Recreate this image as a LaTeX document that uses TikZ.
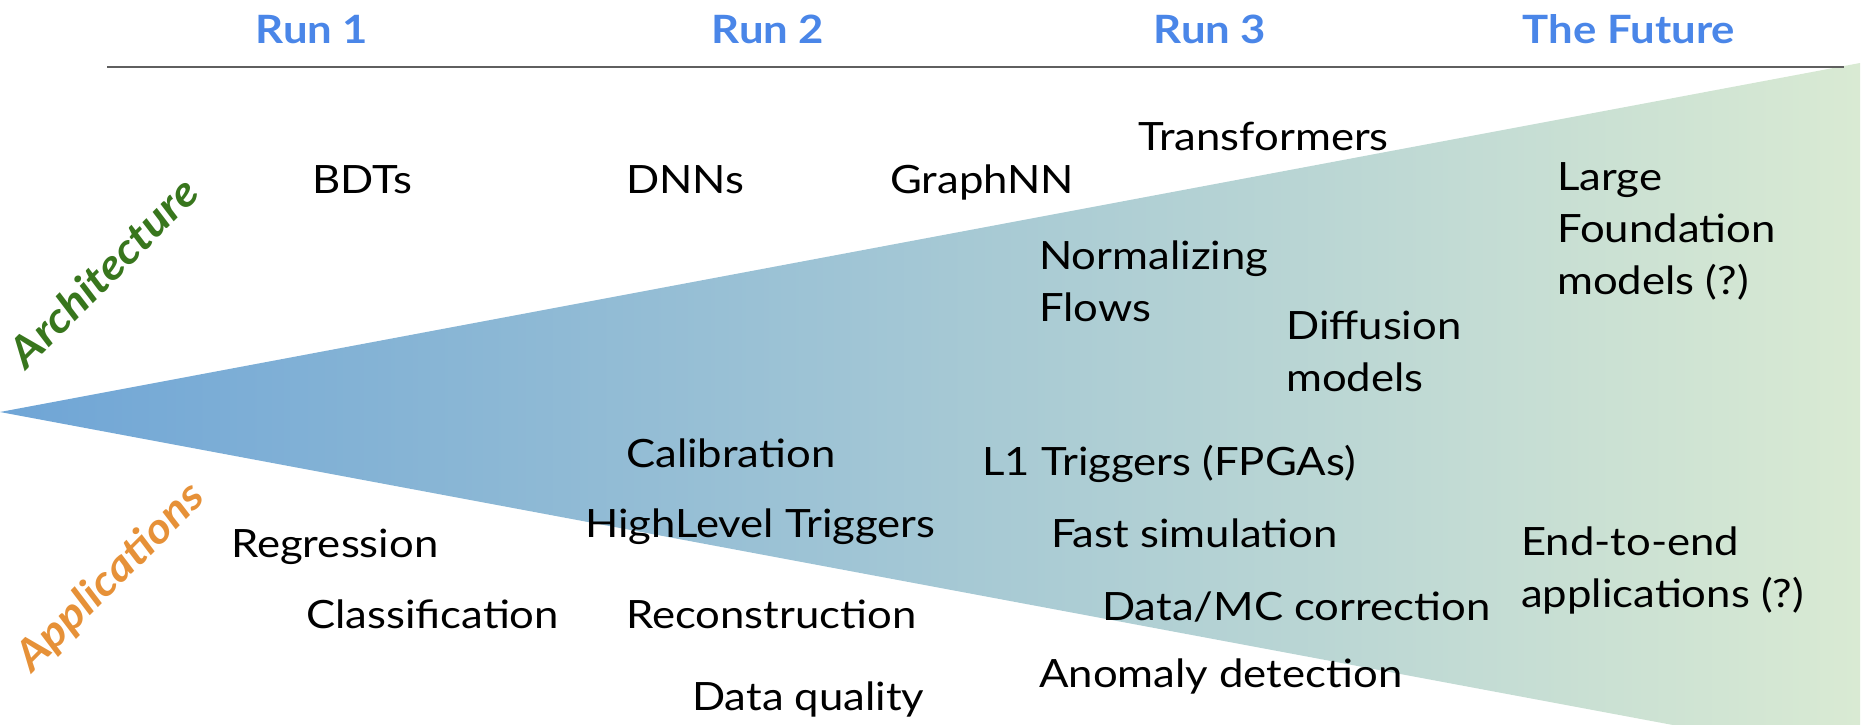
\documentclass[tikz,border=0pt]{standalone}
\usepackage{fontspec}
\setmainfont{Lato}[FakeStretch=1.12]
\definecolor{hdrblue}{HTML}{4A86E8}
\definecolor{archgreen}{HTML}{38761D}
\definecolor{apporange}{HTML}{E69138}
\definecolor{lineGray}{HTML}{5F5F5F}
\definecolor{gradLeft}{HTML}{6FA5D6}
\definecolor{gradRight}{HTML}{D9EAD3}
\newcommand{\mlines}[1]{\begin{tabular}[t]{@{}l@{}}#1\end{tabular}}
\begin{document}
\begin{tikzpicture}[x=1pt,y=-1pt,
  lbl/.style={anchor=base west,inner sep=0pt,font=\fontsize{39}{52}\selectfont,text=black},
  hdr/.style={anchor=base,inner sep=0pt,font=\fontsize{39}{51}\selectfont\bfseries,text=hdrblue},
  side/.style={inner sep=0pt,rotate=45,font=\fontsize{42}{48}\selectfont\bfseries\itshape}]
\useasboundingbox (0,0) rectangle (1874,724);
\begin{scope}
\clip (0,0) rectangle (1874,724);
\coordinate (apex) at (0,412);
\coordinate (tr) at (1860,63);
\coordinate (br) at (1860,760);
\shade[left color=gradLeft,right color=gradRight] (apex) -- (tr) -- (br) -- cycle;
\end{scope}
\coordinate (ls) at (107,67);
\coordinate (le) at (1844,67);
\draw[lineGray,line width=2.5pt] (ls) -- (le);
\node[hdr] (r1) at (312,43) {Run 1};
\node[hdr] (r2) at (768,43) {Run 2};
\node[hdr] (r3) at (1210,43) {Run 3};
\node[hdr] (fut) at (1629,43) {The Future};
\node[side,text=archgreen] (arch) at (103,272) {Architecture};
\node[side,text=apporange] (app) at (111,578) {Applications};
\node[lbl] (bdt) at (312,193) {BDTs};
\node[lbl] (dnn) at (626,193) {DNNs};
\node[lbl] (gnn) at (890,193) {GraphNN};
\node[lbl] (trf) at (1138,150) {Transformers};
\node[lbl] (nf) at (1039,269) {\mlines{Normalizing\\Flows}};
\node[lbl] (diff) at (1286,339) {\mlines{Diffusion\\models}};
\node[lbl] (lfm) at (1557,190) {\mlines{Large\\Foundation\\models (?)}};
\node[lbl] (cal) at (626,467) {Calibration};
\node[lbl] (hlt) at (585,537) {HighLevel Triggers};
\node[lbl] (reg) at (231,557) {Regression};
\node[lbl] (cls) at (306,628) {Classification};
\node[lbl] (rec) at (626,628) {Reconstruction};
\node[lbl] (dq) at (692,710) {Data quality};
\node[lbl] (l1) at (982,475) {L1 Triggers (FPGAs)};
\node[lbl] (fs) at (1051,547) {Fast simulation};
\node[lbl] (dmc) at (1102,620) {Data/MC correction};
\node[lbl] (ad) at (1039,687) {Anomaly detection};
\node[lbl] (e2e) at (1521,555) {\mlines{End-to-end\\applications (?)}};
\end{tikzpicture}
\end{document}
